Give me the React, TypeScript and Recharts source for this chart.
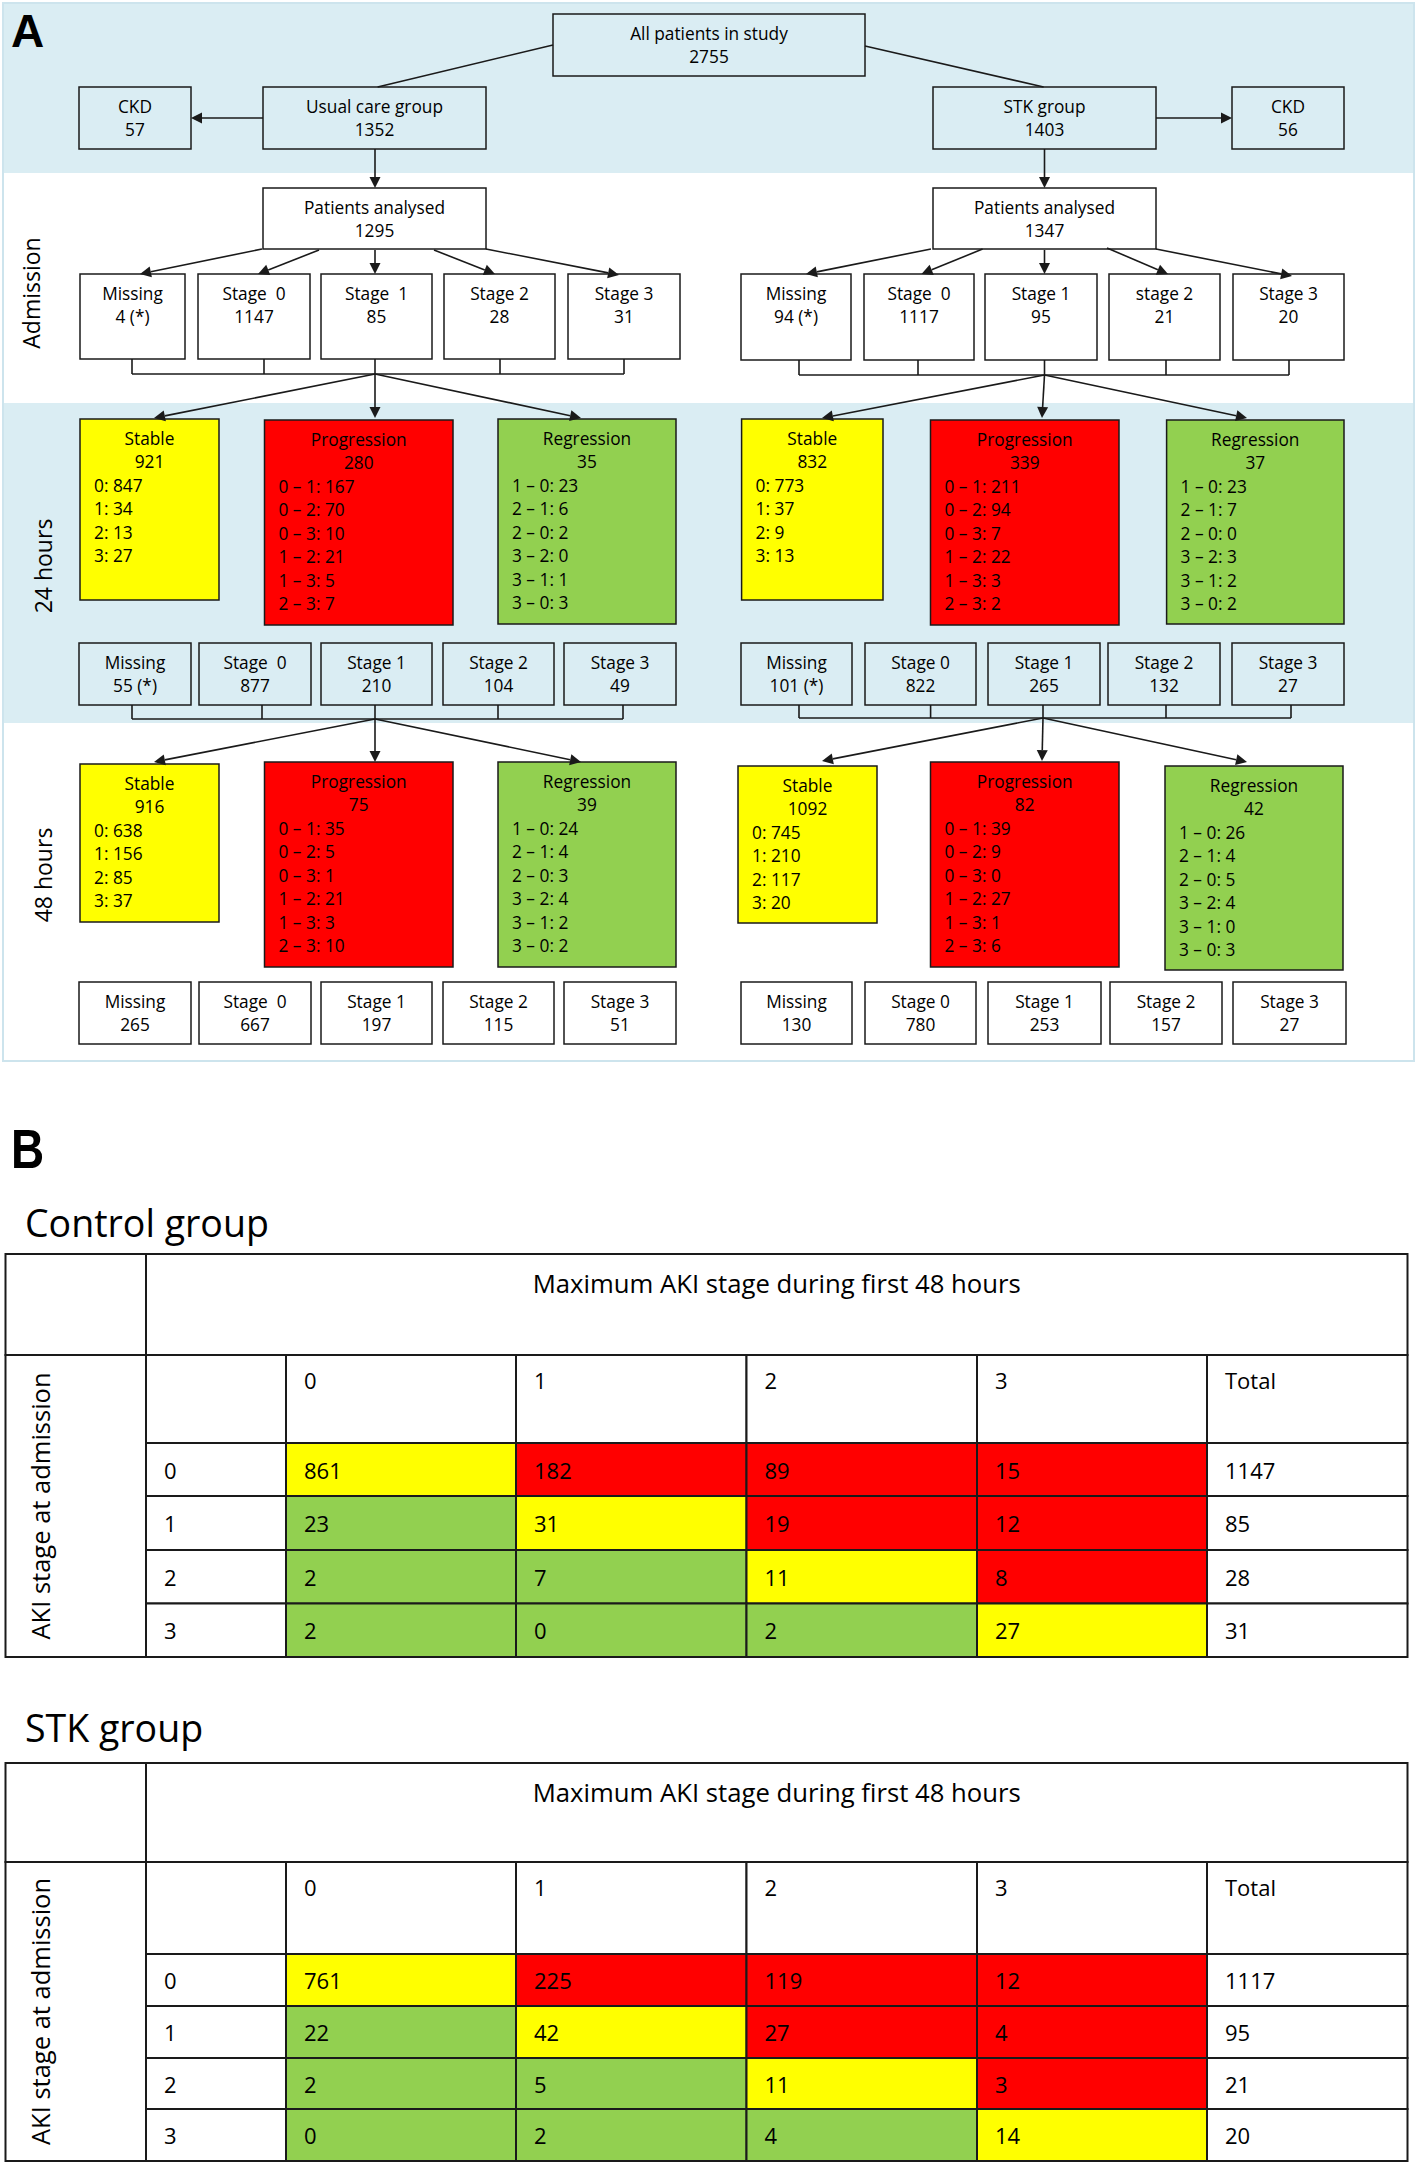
import React from 'react';
import { ComposedChart, XAxis, YAxis, Scatter, ReferenceArea, ReferenceLine } from 'recharts';

const W = 1418;
const H = 2165;
const SANS = "'Open Sans', 'Liberation Sans', sans-serif";
const BOLD = "'Liberation Sans', Arial, sans-serif";
const BLUE = '#daedf3';
const YELLOW = '#ffff00';
const RED = '#ff0000';
const GREEN = '#92d050';
const INK = '#1a1a1a';

// ---- panel A: flow chart values ----
const allPatients = 2755;
const groupNames = ['Usual care group', 'STK group'];
const groupTotals = [1352, 1403];
const ckdExcluded = [57, 56];
const analysed = [1295, 1347];

const admissionLabelsUsual = ['Missing', 'Stage  0', 'Stage  1', 'Stage 2', 'Stage 3'];
const admissionLabelsStk = ['Missing', 'Stage  0', 'Stage 1', 'stage 2', 'Stage 3'];
const admissionUsual = ['4 (*)', '1147', '85', '28', '31'];
const admissionStk = ['94 (*)', '1117', '95', '21', '20'];

const stageLabelsUsual = ['Missing', 'Stage  0', 'Stage 1', 'Stage 2', 'Stage 3'];
const stageLabelsStk = ['Missing', 'Stage 0', 'Stage 1', 'Stage 2', 'Stage 3'];
const h24Usual = ['55 (*)', '877', '210', '104', '49'];
const h24Stk = ['101 (*)', '822', '265', '132', '27'];
const h48Usual = ['265', '667', '197', '115', '51'];
const h48Stk = ['130', '780', '253', '157', '27'];

const outcomeNames = ['Stable', 'Progression', 'Regression'];
const stableKeys = ['0', '1', '2', '3'];
const progKeys = ['0 – 1', '0 – 2', '0 – 3', '1 – 2', '1 – 3', '2 – 3'];
const regKeys = ['1 – 0', '2 – 1', '2 – 0', '3 – 2', '3 – 1', '3 – 0'];

const usual24Totals = [921, 280, 35];
const usual24Stable = [847, 34, 13, 27];
const usual24Prog = [167, 70, 10, 21, 5, 7];
const usual24Reg = [23, 6, 2, 0, 1, 3];

const stk24Totals = [832, 339, 37];
const stk24Stable = [773, 37, 9, 13];
const stk24Prog = [211, 94, 7, 22, 3, 2];
const stk24Reg = [23, 7, 0, 3, 2, 2];

const usual48Totals = [916, 75, 39];
const usual48Stable = [638, 156, 85, 37];
const usual48Prog = [35, 5, 1, 21, 3, 10];
const usual48Reg = [24, 4, 3, 4, 2, 2];

const stk48Totals = [1092, 82, 42];
const stk48Stable = [745, 210, 117, 20];
const stk48Prog = [39, 9, 0, 27, 1, 6];
const stk48Reg = [26, 4, 5, 4, 0, 3];

// ---- panel B: tables ----
const colHeaders = ['0', '1', '2', '3', 'Total'];
const rowLabels = ['0', '1', '2', '3'];
const controlMatrix = [
  [861, 182, 89, 15],
  [23, 31, 19, 12],
  [2, 7, 11, 8],
  [2, 0, 2, 27],
];
const controlTotals = [1147, 85, 28, 31];
const stkMatrix = [
  [761, 225, 119, 12],
  [22, 42, 27, 4],
  [2, 5, 11, 3],
  [0, 2, 4, 14],
];
const stkTotals = [1117, 95, 21, 20];

// ---- layout (pixels of the 1418x2165 canvas) ----
const admissionXL = [[80, 185], [198, 310], [321, 432], [444, 555], [568, 680]];
const admissionXR = [[741, 851], [864, 974], [985, 1097], [1109, 1220], [1233, 1344]];
const stageXL = [[79, 191], [199, 311], [321, 432], [443, 554], [564, 676]];
const h24XR = [[741, 852], [865, 976], [988, 1100], [1108, 1220], [1232, 1344]];
const h48XR = [[741, 852], [865, 976], [988, 1101], [1110, 1222], [1233, 1346]];
const out24L = [[80, 219, 419, 600], [264.5, 453, 420, 625], [498, 676, 419, 624]];
const out24R = [[741.6, 883, 419, 600], [930.5, 1119, 420, 625], [1166.6, 1344, 420, 624]];
const out48L = [[80, 219, 764, 922], [264.5, 453, 762, 967], [498, 676, 762, 967]];
const out48R = [[738, 877, 766, 923], [930.5, 1119, 762, 967], [1165, 1343, 766, 970]];
const tableCols = [5.5, 146, 286, 516, 746.5, 977, 1207, 1407.5];
const controlRows = [1254, 1355, 1443, 1496, 1550, 1603.5, 1657];
const stkRows = [1763, 1862, 1954, 2006, 2058, 2109, 2161];

type T = {
  t: string;
  dx: number | 'mid';
  dy: number | 'mid';
  size: number;
  anchor?: 'start' | 'middle' | 'end';
  base?: 'central' | 'alphabetic';
  weight?: number;
  family?: string;
  rot?: boolean;
  sx?: number;
};
type Item = { id: string; x: number[]; y: number[]; fill?: string; stroke?: string; sw?: number; texts: T[] };

const items: Item[] = [];
const BOX_FONT = 17.3;
const LINE = 23.5;

const centerLines = (lines: string[]): T[] =>
  lines.map((t, i) => ({ t, dx: 'mid', dy: 19 + i * LINE, size: BOX_FONT, anchor: 'middle' }));

const addBox = (id: string, x: number[], y: number[], fill: string, center: string[], left: string[] = []) => {
  const texts = centerLines(center).concat(
    left.map((t, i) => ({ t, dx: 14, dy: 19 + (center.length + i) * LINE, size: BOX_FONT, anchor: 'start' as const }))
  );
  items.push({ id, x, y, fill, stroke: INK, sw: 1.5, texts });
};

const addText = (id: string, x: number, y: number, t: T) => items.push({ id, x: [x, x + 1], y: [y, y + 1], texts: [t] });

// backgrounds of panel A
items.push({ id: 'frameA', x: [3, 1414], y: [3, 1061], fill: '#ffffff', stroke: '#cde4ed', sw: 2, texts: [] });
items.push({ id: 'band1', x: [4, 1413], y: [4, 173], fill: BLUE, texts: [] });
items.push({ id: 'band2', x: [4, 1413], y: [403, 723], fill: BLUE, texts: [] });

addText('A', 11, 47, { t: 'A', dx: 0, dy: 0, size: 46, base: 'alphabetic', weight: 700, family: BOLD });
addText('adm', 40, 293, { t: 'Admission', dx: 0, dy: 0, size: 23, anchor: 'middle', base: 'alphabetic', rot: true });
addText('h24', 52, 566, { t: '24 hours', dx: 0, dy: 0, size: 23, anchor: 'middle', base: 'alphabetic', rot: true });
addText('h48', 52, 875, { t: '48 hours', dx: 0, dy: 0, size: 23, anchor: 'middle', base: 'alphabetic', rot: true });

addBox('all', [553, 865], [14, 76], BLUE, ['All patients in study', String(allPatients)]);
addBox('grpL', [263, 486], [87, 149], BLUE, [groupNames[0], String(groupTotals[0])]);
addBox('grpR', [933, 1156], [87, 149], BLUE, [groupNames[1], String(groupTotals[1])]);
addBox('ckdL', [79, 191], [87, 149], BLUE, ['CKD', String(ckdExcluded[0])]);
addBox('ckdR', [1232, 1344], [87, 149], BLUE, ['CKD', String(ckdExcluded[1])]);
addBox('anL', [263, 486], [188, 249], '#ffffff', ['Patients analysed', String(analysed[0])]);
addBox('anR', [933, 1156], [188, 249], '#ffffff', ['Patients analysed', String(analysed[1])]);

const stageRow = (id: string, xs: number[][], y: number[], fill: string, labels: string[], values: string[]) =>
  xs.forEach((x, i) => addBox(`${id}${i}`, x, y, fill, [labels[i], values[i]]));

stageRow('admL', admissionXL, [274, 359], '#ffffff', admissionLabelsUsual, admissionUsual);
stageRow('admR', admissionXR, [274, 360], '#ffffff', admissionLabelsStk, admissionStk);
stageRow('s24L', stageXL, [643, 705], BLUE, stageLabelsUsual, h24Usual);
stageRow('s24R', h24XR, [643, 705], BLUE, stageLabelsStk, h24Stk);
stageRow('s48L', stageXL, [982, 1044], '#ffffff', stageLabelsUsual, h48Usual);
stageRow('s48R', h48XR, [982, 1044], '#ffffff', stageLabelsStk, h48Stk);

const outcomeRow = (id: string, pos: number[][], totals: number[], stable: number[], prog: number[], reg: number[]) => {
  const details = [
    stableKeys.map((k, i) => `${k}: ${stable[i]}`),
    progKeys.map((k, i) => `${k}: ${prog[i]}`),
    regKeys.map((k, i) => `${k}: ${reg[i]}`),
  ];
  const fills = [YELLOW, RED, GREEN];
  pos.forEach((p, i) =>
    addBox(`${id}${i}`, [p[0], p[1]], [p[2], p[3]], fills[i], [outcomeNames[i], String(totals[i])], details[i])
  );
};
outcomeRow('o24L', out24L, usual24Totals, usual24Stable, usual24Prog, usual24Reg);
outcomeRow('o24R', out24R, stk24Totals, stk24Stable, stk24Prog, stk24Reg);
outcomeRow('o48L', out48L, usual48Totals, usual48Stable, usual48Prog, usual48Reg);
outcomeRow('o48R', out48R, stk48Totals, stk48Stable, stk48Prog, stk48Reg);

// ---- panel B ----
addText('B', 11, 1168, { t: 'B', dx: 0, dy: 0, size: 56, base: 'alphabetic', weight: 700, family: BOLD, sx: 0.82 });
addText('ctlTitle', 25, 1237, { t: 'Control group', dx: 0, dy: 0, size: 37.5, base: 'alphabetic' });
addText('stkTitle', 25, 1742, { t: 'STK group', dx: 0, dy: 0, size: 37.5, base: 'alphabetic' });

const cellFill = (i: number, j: number) => (i === j ? YELLOW : j > i ? RED : GREEN);
const CELL_FONT = 22;

const addTable = (id: string, rows: number[], matrix: number[][], totals: number[]) => {
  const c = tableCols;
  const cell = (key: string, x: number[], y: number[], fill: string, texts: T[]) =>
    items.push({ id: `${id}-${key}`, x, y, fill, stroke: INK, sw: 2, texts });
  cell('corner', [c[0], c[1]], [rows[0], rows[1]], '#ffffff', []);
  cell('title', [c[1], c[7]], [rows[0], rows[1]], '#ffffff', [
    { t: 'Maximum AKI stage during first 48 hours', dx: 'mid', dy: 29, size: 25.7, anchor: 'middle' },
  ]);
  cell('side', [c[0], c[1]], [rows[1], rows[6]], '#ffffff', [
    { t: 'AKI stage at admission', dx: 44, dy: 'mid', size: 25.5, anchor: 'middle', base: 'alphabetic', rot: true },
  ]);
  cell('hblank', [c[1], c[2]], [rows[1], rows[2]], '#ffffff', []);
  colHeaders.forEach((h, j) =>
    cell(`h${j}`, [c[2 + j], c[3 + j]], [rows[1], rows[2]], '#ffffff', [
      { t: h, dx: 18, dy: 25, size: CELL_FONT },
    ])
  );
  matrix.forEach((vals, i) => {
    const y = [rows[2 + i], rows[3 + i]];
    cell(`r${i}`, [c[1], c[2]], y, '#ffffff', [{ t: rowLabels[i], dx: 18, dy: 'mid', size: CELL_FONT }]);
    vals.forEach((v, j) =>
      cell(`c${i}${j}`, [c[2 + j], c[3 + j]], y, cellFill(i, j), [{ t: String(v), dx: 18, dy: 'mid', size: CELL_FONT }])
    );
    cell(`t${i}`, [c[6], c[7]], y, '#ffffff', [{ t: String(totals[i]), dx: 18, dy: 'mid', size: CELL_FONT }]);
  });
};
addTable('ctl', controlRows, controlMatrix, controlTotals);
addTable('stk', stkRows, stkMatrix, stkTotals);

// ---- connectors: [x1, y1, x2, y2, arrowhead] ----
type Seg = [number, number, number, number, boolean];
const segs: Seg[] = [
  [553, 45, 377.6, 87, false],
  [865, 46, 1043.6, 87, false],
  [263, 118, 191, 118, true],
  [1156, 118, 1232, 118, true],
  [375, 149, 375, 188, true],
  [1044.5, 149, 1044.5, 188, true],
  [262, 249, 140, 274, true],
  [319, 250, 258, 274, true],
  [375, 250, 375, 274, true],
  [434, 250, 495, 274, true],
  [486, 249, 619, 275, true],
  [931, 249, 806, 274, true],
  [982.6, 249, 921.5, 274, true],
  [1044.5, 250, 1044.5, 274, true],
  [1107, 248, 1168, 274, true],
  [1156, 249, 1292, 276, true],
];
const brackets = [
  { xs: [132, 264, 375, 500, 624], top: 359, y: 374, hub: 375, to: [[154, 418], [375, 418], [581, 418]] },
  { xs: [799, 918, 1044.5, 1166, 1289], top: 360, y: 375, hub: 1044.5, to: [[822, 418], [1042, 418], [1247, 418]] },
  { xs: [132, 262, 375, 498, 623], top: 705, y: 719, hub: 375, to: [[154, 762], [375, 762], [581, 762]] },
  { xs: [799, 930.6, 1043, 1166, 1291], top: 705, y: 718, hub: 1043, to: [[822, 761], [1042, 761], [1247, 762]] },
];
brackets.forEach((b) => {
  b.xs.forEach((x) => segs.push([x, b.top, x, b.y, false]));
  segs.push([b.xs[0], b.y, b.xs[b.xs.length - 1], b.y, false]);
  b.to.forEach(([x, y]) => segs.push([b.hub, b.y, x, y, true]));
});

const frame = [{ x: 0, y: 0 }, { x: W, y: H }];

function renderItem(p: any, it: Item) {
  const { x, y, width, height } = p;
  return (
    <g>
      {(it.fill || it.stroke) && (
        <rect x={x} y={y} width={width} height={height} fill={it.fill ?? 'none'} stroke={it.stroke ?? 'none'} strokeWidth={it.sw ?? 1.5} />
      )}
      {it.texts.map((t, i) => {
        const tx = x + (t.dx === 'mid' ? width / 2 : t.dx);
        const ty = y + (t.dy === 'mid' ? height / 2 : t.dy);
        let transform: string | undefined;
        if (t.rot) transform = `rotate(-90 ${tx} ${ty})`;
        else if (t.sx) transform = `translate(${tx} ${ty}) scale(${t.sx} 1) translate(${-tx} ${-ty})`;
        return (
          <text
            key={i}
            x={tx}
            y={ty}
            textAnchor={t.anchor ?? 'start'}
            dominantBaseline={t.base ?? 'central'}
            fontSize={t.size}
            fontWeight={t.weight ?? 400}
            fontFamily={t.family ?? SANS}
            fill="#000"
            transform={transform}
            style={{ whiteSpace: 'pre' }}
          >
            {t.t}
          </text>
        );
      })}
    </g>
  );
}

function renderArrow(p: any, head: boolean) {
  const { x1, y1, x2, y2 } = p;
  const dx = x2 - x1;
  const dy = y2 - y1;
  const len = Math.hypot(dx, dy) || 1;
  const ux = dx / len;
  const uy = dy / len;
  const L = 11;
  const hw = 5.5;
  const bx = x2 - ux * L;
  const by = y2 - uy * L;
  return (
    <g>
      <line x1={x1} y1={y1} x2={head ? bx : x2} y2={head ? by : y2} stroke={INK} strokeWidth={1.6} />
      {head && (
        <polygon points={`${x2},${y2} ${bx - uy * hw},${by + ux * hw} ${bx + uy * hw},${by - ux * hw}`} fill={INK} />
      )}
    </g>
  );
}

export default function App() {
  return (
    <div style={{ position: 'absolute', left: 0, top: 0, width: W, height: H, background: '#ffffff' }}>
      <ComposedChart width={W} height={H} data={frame} margin={{ top: 0, right: 0, bottom: 0, left: 0 }}>
        <XAxis type="number" dataKey="x" domain={[0, W]} allowDataOverflow hide />
        <YAxis type="number" dataKey="y" domain={[0, H]} allowDataOverflow reversed hide />
        {items.map((it) => (
          <ReferenceArea
            key={it.id}
            x1={it.x[0]}
            x2={it.x[1]}
            y1={it.y[0]}
            y2={it.y[1]}
            ifOverflow="visible"
            shape={(p: any) => renderItem(p, it)}
          />
        ))}
        {segs.map((s, i) => (
          <ReferenceLine
            key={`seg${i}`}
            segment={[{ x: s[0], y: s[1] }, { x: s[2], y: s[3] }]}
            ifOverflow="visible"
            shape={(p: any) => renderArrow(p, s[4])}
          />
        ))}
        <Scatter dataKey="y" isAnimationActive={false} shape={() => <g />} />
      </ComposedChart>
    </div>
  );
}
